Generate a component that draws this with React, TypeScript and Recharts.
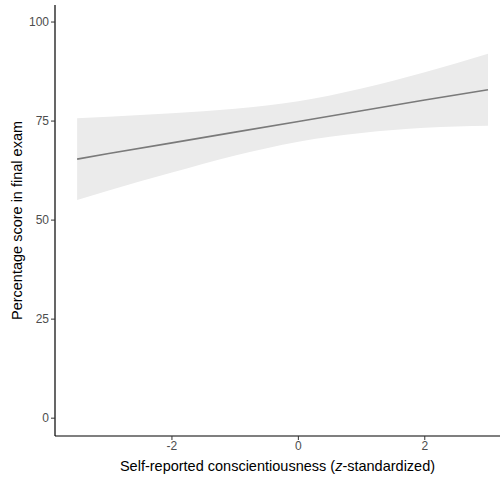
import React from 'react';
import { ComposedChart, Area, Line, XAxis, YAxis } from 'recharts';

const xValues = [-3.5, -3, -2, -1, 0, 1, 2, 3];
const fitted = [65.4, 66.8, 69.5, 72.2, 74.9, 77.6, 80.3, 82.9];
const lowerCI = [55.1, 57.5, 62.0, 66.3, 69.8, 72.0, 73.3, 73.8];
const upperCI = [75.7, 76.1, 77.0, 78.1, 80.0, 83.2, 87.3, 92.0];
const xTicks = [-2, 0, 2];
const yTicks = [0, 25, 50, 75, 100];

const data = xValues.map((x, i) => ({ x, fit: fitted[i], band: [lowerCI[i], upperCI[i]] }));

const FONT = '"Liberation Sans", Arial, sans-serif';

const XLabel = (props: any) => {
  const vb = props.viewBox || {};
  const cx = vb.x + vb.width / 2;
  return (
    <text x={cx} y={471} textAnchor="middle" fontSize={14.5} fontFamily={FONT} fill="#000">
      <tspan>Self-reported conscientiousness (</tspan>
      <tspan fontStyle="italic">z</tspan>
      <tspan>-standardized)</tspan>
    </text>
  );
};

const YLabel = (props: any) => {
  const vb = props.viewBox || {};
  const cy = vb.y + vb.height / 2;
  return (
    <text x={22} y={cy} transform={`rotate(-90, 22, ${cy})`} textAnchor="middle" fontSize={14.5} fontFamily={FONT} fill="#000">
      Percentage score in final exam
    </text>
  );
};

export default function App() {
  return (
    <div style={{ position: 'absolute', left: 0, top: 0, width: 502, height: 479, background: '#fff' }}>
      <ComposedChart width={502} height={479} data={data} margin={{ top: 5, right: 2, bottom: 0, left: 0 }}>
        <XAxis
          type="number"
          dataKey="x"
          domain={[-3.85, 3.19]}
          ticks={xTicks}
          allowDataOverflow
          height={43}
          tickSize={4}
          tickMargin={1}
          tick={{ fontSize: 12, fill: '#4d4d4d', fontFamily: FONT }}
          tickLine={{ stroke: '#333' }}
          axisLine={{ stroke: '#000', strokeWidth: 1.2 }}
          label={<XLabel />}
        />
        <YAxis
          type="number"
          domain={[-4.5, 104.3]}
          ticks={yTicks}
          allowDataOverflow
          width={55}
          tickSize={4}
          tickMargin={2}
          tick={{ fontSize: 12, fill: '#4d4d4d', fontFamily: FONT }}
          tickLine={{ stroke: '#333' }}
          axisLine={{ stroke: '#000', strokeWidth: 1.2 }}
          label={<YLabel />}
        />
        <Area
          type="monotone"
          dataKey="band"
          stroke="none"
          fill="#ebebeb"
          fillOpacity={1}
          isAnimationActive={false}
        />
        <Line
          type="linear"
          dataKey="fit"
          stroke="#7a7a7a"
          strokeWidth={1.6}
          dot={false}
          activeDot={false}
          isAnimationActive={false}
        />
      </ComposedChart>
    </div>
  );
}
